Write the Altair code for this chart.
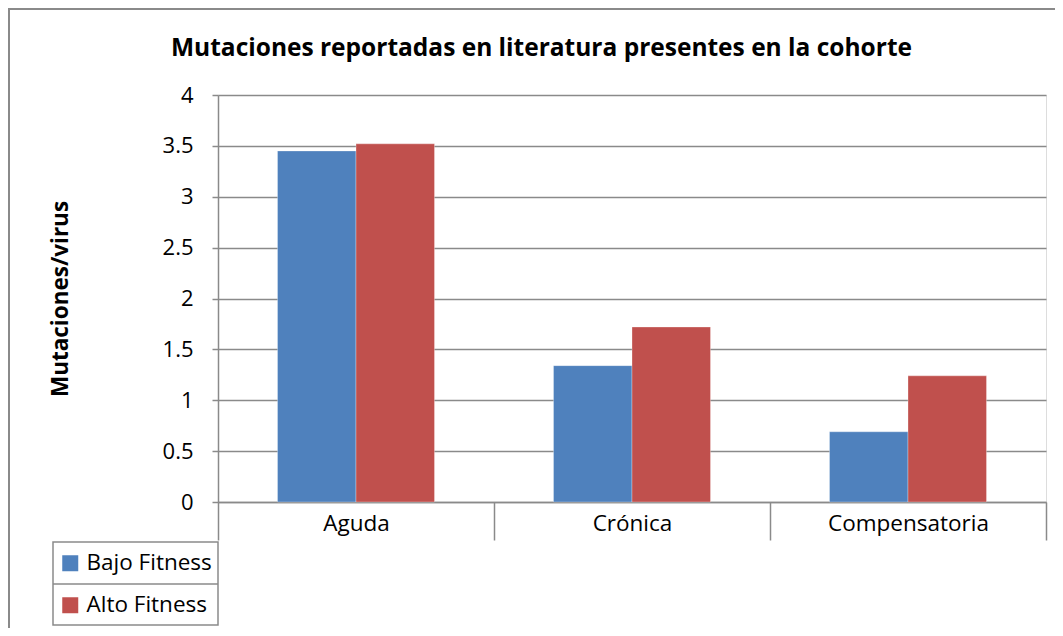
import altair as alt
import pandas as pd

# ---- data ----
categories = ["Aguda", "Crónica", "Compensatoria"]
series = ["Bajo Fitness", "Alto Fitness"]
bajo_fitness = [3.45, 1.34, 0.69]
alto_fitness = [3.52, 1.72, 1.24]
series_colors = ["#4F81BD", "#C0504D"]
y_ticks = [0, 0.5, 1, 1.5, 2, 2.5, 3, 3.5, 4]
title_text = "Mutaciones reportadas en literatura presentes en la cohorte"
y_title = "Mutaciones/virus"

rows = []
for i, c in enumerate(categories):
    rows.append({"categoria": c, "serie": series[0], "valor": bajo_fitness[i]})
    rows.append({"categoria": c, "serie": series[1], "valor": alto_fitness[i]})
df = pd.DataFrame(rows)

FONT = "Open Sans"
GRAY = "#8a8a8a"
W, H = 828, 407

bars = alt.Chart(df).mark_bar(stroke="white", strokeWidth=0.6, strokeOpacity=0.5).encode(
    x=alt.X(
        "categoria:N", sort=categories, title=None,
        scale=alt.Scale(paddingInner=0, paddingOuter=0),
        axis=alt.Axis(labelAngle=0, labelFont=FONT, labelFontSize=22.5, labelColor="black",
                      domainColor=GRAY, domainWidth=1.5, tickColor=GRAY, tickWidth=1.5,
                      tickSize=38, tickBand="extent", labelPadding=-28, grid=False),
    ),
    xOffset=alt.XOffset("serie:N", sort=series,
                        scale=alt.Scale(paddingInner=0, paddingOuter=0.758)),
    y=alt.Y(
        "valor:Q", title=y_title,
        scale=alt.Scale(domain=[0, 4], nice=False),
        axis=alt.Axis(values=y_ticks, format="~g", labelFont=FONT, labelFontSize=22,
                      labelColor="black", labelPadding=19, tickSize=6, tickColor=GRAY,
                      tickWidth=1.5, domainColor=GRAY, domainWidth=1.5,
                      gridColor=GRAY, gridWidth=1.5,
                      titleFont=FONT, titleFontSize=22.5, titleFontWeight="bold",
                      titleColor="black", titleAngle=-90, titleX=-158, titleY=H / 2,
                      titleAlign="center", titleBaseline="middle"),
    ),
    color=alt.Color(
        "serie:N", sort=series,
        scale=alt.Scale(domain=series, range=series_colors),
        legend=alt.Legend(title=None, orient="none", legendX=-169, legendY=447,
                          padding=10, symbolType="square", symbolSize=256,
                          symbolStrokeWidth=0, labelFont=FONT, labelFontSize=22.5,
                          labelColor="black", labelOffset=5, rowPadding=19),
    ),
)

one = alt.Data(values=[{"k": 1}])

outer_border = alt.Chart(one).mark_rect(fillOpacity=0, stroke=GRAY, strokeWidth=2).encode(
    x=alt.value(-209), x2=alt.value(900), y=alt.value(-86), y2=alt.value(700)
)
legend_box = alt.Chart(one).mark_rect(fillOpacity=0, stroke=GRAY, strokeWidth=1.5).encode(
    x=alt.value(-165), x2=alt.value(0), y=alt.value(447), y2=alt.value(530)
)
legend_mid = alt.Chart(one).mark_rule(stroke=GRAY, strokeWidth=1.5).encode(
    x=alt.value(-165), x2=alt.value(0), y=alt.value(489)
)

chart = alt.layer(outer_border, bars, legend_box, legend_mid).properties(
    width=W, height=H,
    title=alt.Title(title_text, font=FONT, fontSize=24.5, fontWeight="bold", color="black",
                    anchor="middle", dx=-90.5, offset=-77, baseline="bottom"),
    autosize=alt.AutoSizeParams(type="none"),
    padding={"left": 210, "top": 87, "right": 9, "bottom": 126},
).configure_view(stroke=None).configure(background="white")

chart.save("out.html", embed_options={"renderer": "svg", "actions": False})
